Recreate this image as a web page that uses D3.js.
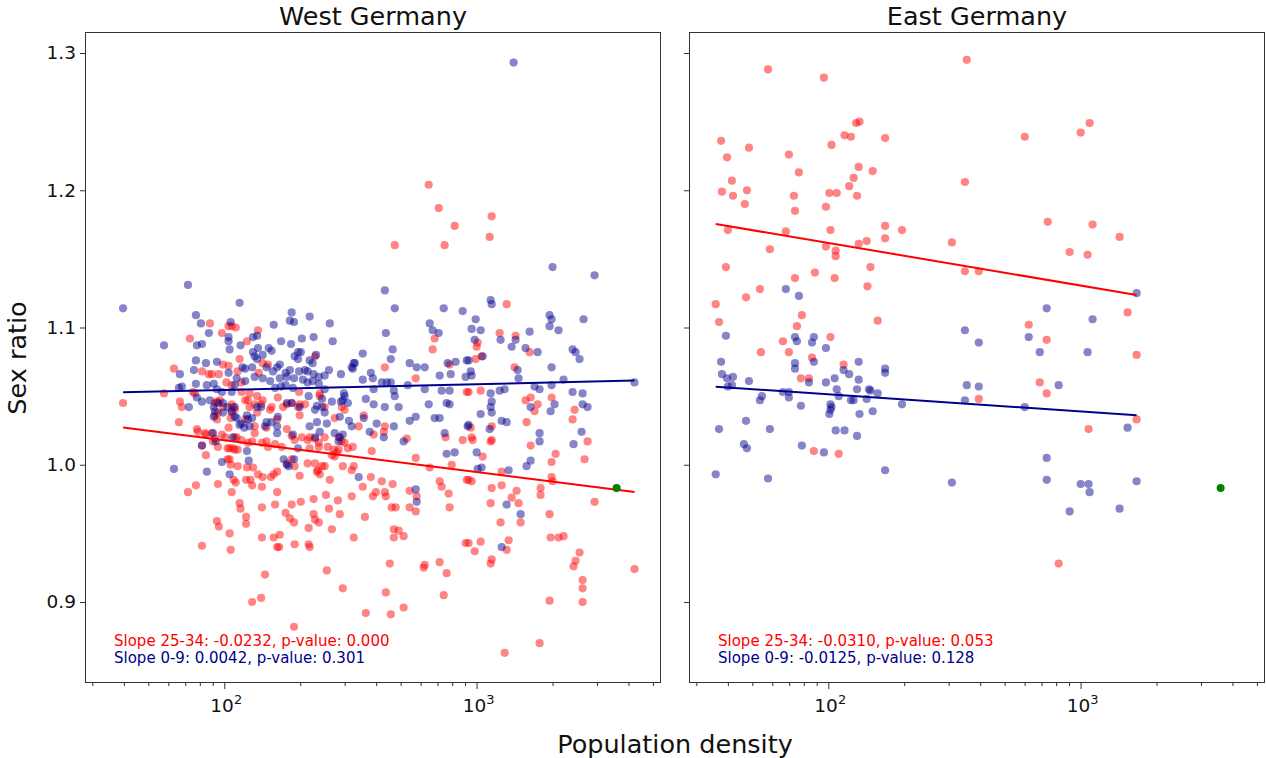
<!DOCTYPE html>
<html>
<head>
<meta charset="utf-8">
<script src="https://cdn.jsdelivr.net/npm/d3@7"></script>
<style>
  html, body { margin: 0; padding: 0; background: #ffffff; }
  svg { display: block; font-family: "DejaVu Sans", sans-serif; }
</style>
</head>
<body>
<svg id="chart" width="1266" height="758"></svg>
<script>
// ---- Data: [population density (per km²), sex ratio] per district ----

// West Germany, age group 0-9
const westYoung = [
  [71.8,1.131],[39.7,1.114],[115,1.118],[77.2,1.109],[80.8,1.103],[157,1.102],[106,1.104],[86.9,1.096],[104,1.093],[104,1.090],
  [57.7,1.087],[77.9,1.087],[81.6,1.088],[105,1.084],[116,1.087],[130,1.093],[135,1.094],[136,1.085],[130,1.082],[132,1.079],
  [135,1.077],[142,1.080],[150,1.085],[154,1.083],[77.2,1.076],[84.6,1.074],[93.5,1.075],[66.7,1.066],[75.8,1.069],[118,1.071],
  [121,1.070],[129,1.071],[147,1.071],[156,1.068],[77.2,1.059],[85.3,1.058],[67.9,1.057],[66.1,1.056],[104,1.067],[112,1.063],
  [121,1.061],[132,1.064],[142,1.063],[152,1.061],
  [185,1.111],[182,1.105],[189,1.104],[218,1.108],[262,1.103],[168,1.090],[184,1.088],[203,1.092],[226,1.093],[269,1.090],
  [196,1.082],[201,1.082],[190,1.079],[196,1.077],[218,1.076],[224,1.074],[231,1.080],[162,1.071],[166,1.073],[175,1.067],
  [177,1.064],[182,1.069],[189,1.063],[198,1.068],[209,1.069],[214,1.068],[226,1.066],[237,1.064],[250,1.065],[260,1.069],
  [290,1.066],[320,1.071],[329,1.074],[159,1.056],[168,1.057],[175,1.058],[187,1.056],[205,1.062],[214,1.060],[224,1.061],
  [237,1.059],[90.9,1.059],[93.5,1.055],[97.9,1.053],[107,1.053],[110,1.058],[77.9,1.049],[81.6,1.046],[87.7,1.047],[90.9,1.042],
  [94.4,1.045],[98.8,1.045],[110,1.042],[72.4,1.042],[90.9,1.035],[110,1.035],[123,1.036],[124,1.033],[129,1.034],[145,1.028],
  [147,1.031],[163,1.035],[162,1.028],[154,1.031],[115,1.029],[120,1.027],[126,1.028],[244,1.042],[229,1.040],[250,1.038],
  [267,1.046],[287,1.035],[290,1.046],[300,1.050],[295,1.047],[309,1.045],[233,1.031],[255,1.030],[274,1.023],[287,1.020],
  [295,1.022],[196,1.012],[229,1.020],[90.2,1.023],[92.6,1.017],[108,1.020],[123,1.010],[125,1.003],[97.9,1.002],[85.3,0.995],
  [105,0.993],[63.2,0.997],[172,1.004],[177,1.000],[189,1.004],[180,0.999],[187,1.022],
  [103,1.042],[91.8,1.039],[98.8,1.038],[107,1.039],[112,1.034],[117,1.030],[135,1.042],[140,1.042],[81.6,1.014],
  [177,1.045],[185,1.045],[199,1.042],[216,1.050],[233,1.043],[244,1.048],[312,1.032],[320,1.028],[284,1.017],[239,1.024],[218,1.028],
  [364,1.048],[391,1.044],[433,1.042],[474,1.050],[491,1.042],[357,1.034],[402,1.030],[470,1.028],[377,1.024],[429,1.020],[514,1.017],
  [646,1.044],[682,1.034],[714,1.034],[761,1.045],[782,1.044],[543,1.032],[574,1.035],[747,1.023],[761,1.008],[819,1.009],[922,1.028],
  [341,0.991],[574,0.982],[579,0.973],[162,1.023],
  [433,1.127],[474,1.114],[741,1.114],[881,1.112],[652,1.103],[670,1.098],[708,1.096],[437,1.096],[465,1.084],[457,1.077],
  [354,1.081],[326,1.074],[323,1.070],[381,1.067],[388,1.063],[354,1.062],[543,1.074],[579,1.071],[623,1.071],[768,1.074],
  [826,1.075],[914,1.076],[714,1.065],[790,1.066],[421,1.060],[441,1.060],[457,1.060],[534,1.058],[623,1.055],[470,1.054],
  [391,1.055],[727,1.054],[782,1.054],[905,1.064],[166,1.063],[250,1.055],[298,1.052],
  [1402,1.293],[2001,1.144],[2935,1.138],[1137,1.120],[1148,1.117],[992,1.106],[956,1.099],[1038,1.098],[1947,1.109],[1983,1.106],
  [1947,1.101],[2113,1.098],[2655,1.106],[1623,1.097],[983,1.091],[1245,1.091],[1428,1.091],[1377,1.086],[1564,1.085],[1746,1.082],
  [1057,1.079],[930,1.076],[2402,1.084],[2468,1.082],[2560,1.077],[1455,1.069],[1467,1.063],[1983,1.071],[2212,1.062],[956,1.065],
  [948,1.068],[4226,1.060],[1137,1.052],[1234,1.054],[1292,1.055],[1698,1.057],[1777,1.055],[1983,1.058],[2402,1.053],[2632,1.052],
  [1148,1.046],[1137,1.042],[1148,1.038],[1038,1.037],[1257,1.032],[1316,1.031],[1127,1.026],[1001,1.009],[1047,0.998],[1010,0.997],
  [1340,0.996],[1578,0.999],[1638,1.003],[1777,1.023],[1777,1.017],[1638,1.042],[1965,1.039],[2038,1.044],[2423,1.015],[2607,1.024],
  [2632,1.044],[2754,1.042],[1316,0.971],[1495,0.964],[1257,0.940],[930,1.029]
];

// West Germany, age group 25-34
const westAdult = [
  [87.7,1.103],[97.9,1.096],[104,1.101],[107,1.101],[111,1.100],[73.1,1.092],[136,1.098],[123,1.090],[115,1.077],[142,1.074],
  [149,1.073],[63.2,1.070],[81.6,1.068],[86.9,1.066],[89.3,1.066],[95.2,1.066],[98.8,1.073],[104,1.072],[113,1.068],[117,1.060],
  [137,1.067],[102,1.060],[107,1.058],[117,1.053],[126,1.052],[135,1.050],[57.7,1.052],[75.1,1.053],[76.5,1.052],[39.7,1.045],
  [66.7,1.046],[67.9,1.042],[66.1,1.031],[229,1.079],[198,1.053],[239,1.052],[433,1.071],[574,1.063],[782,1.073],[914,1.053],
  [682,1.092],[670,1.084],[646,1.204],[708,1.187],[819,1.174],[474,1.160],[747,1.160],[1148,1.181],[1127,1.166],[1316,1.117],
  [1234,1.096],[1428,1.094],[1010,1.089],[1001,1.086],[1047,1.079],[992,1.077],[1623,1.082],[1415,1.071],[1038,1.054],[930,1.053],
  [93.5,1.046],[96.1,1.047],[107,1.044],[108,1.042],[121,1.047],[124,1.047],[132,1.044],[140,1.044],[152,1.040],[91.8,1.036],
  [93.5,1.033],[104,1.027],[121,1.033],[132,1.023],[132,1.028],[147,1.027],[162,1.033],[159,1.015],[147,1.017],[129,1.017],
  [117,1.018],[112,1.020],[101,1.020],[94.4,1.013],[97.9,1.022],[90.2,1.017],[77.9,1.026],[84.6,1.022],[89.3,1.023],[84.6,1.007],
  [103,1.012],[108,1.012],[113,1.011],[103,1.004],[106,1.000],[109,0.989],[111,0.987],[122,0.989],[127,0.989],[129,0.985],
  [123,0.998],[130,0.998],[136,0.993],[142,0.991],[153,0.991],[157,0.993],[77.2,0.985],[71.8,0.980],[94.4,0.986],[107,0.980],
  [115,0.972],[116,0.968],[122,0.962],[122,0.957],[141,0.969],[159,0.971],[93.5,0.959],[95.2,0.955],[105,0.950],[81.6,0.941],
  [106,0.938],[141,0.947],[157,0.947],[162,0.940],[145,0.920],[129,0.900],[140,0.903],[81.6,1.014],
  [91.8,1.045],[94.4,1.038],[98.8,1.042],[107,1.038],[106,1.034],[110,1.040],[126,1.042],[135,1.038],[142,1.047],[154,1.042],
  [163,1.049],[171,1.042],[185,1.045],[196,1.042],[209,1.044],[239,1.050],[250,1.042],[274,1.034],[292,1.042],[300,1.040],
  [78.6,1.024],[83.8,1.023],[91.8,1.019],[110,1.020],[105,1.012],[110,1.011],[124,1.016],[141,1.016],[149,1.013],[169,1.013],
  [177,1.026],[185,1.021],[190,1.018],[203,1.020],[214,1.018],[237,1.013],[250,1.020],[257,1.013],[267,1.007],[279,1.009],
  [292,1.017],[309,1.012],[323,1.013],[105,1.004],[113,0.999],[141,0.984],[162,0.980],[177,1.001],[185,1.004],[190,0.999],
  [199,0.992],[214,1.001],[229,1.001],[235,0.996],[250,0.999],[262,0.989],[274,1.006],[295,0.999],[320,0.996],
  [177,1.044],[199,1.044],[199,1.036],[218,1.020],[229,1.019],[237,1.016],[218,1.012],[272,1.011],[284,1.011],[284,1.020],
  [300,1.016],[341,1.028],[357,1.036],[391,1.022],[384,1.010],[429,1.024],[433,1.028],[529,1.019],[574,1.005],[652,0.998],
  [754,1.020],[797,1.000],[881,1.018],[162,0.995],[233,0.995],[239,0.993],[244,0.999],[326,0.999],[381,0.991],[354,0.984],
  [399,0.980],[388,0.977],[421,0.988],[433,0.980],[437,0.977],[465,0.986],[461,0.969],[478,0.969],[543,0.981],[543,0.969],
  [579,0.977],[574,0.966],[714,0.988],[727,0.984],[775,0.979],[782,0.969],[914,0.989],[185,0.971],[201,0.973],[226,0.975],
  [253,0.978],[282,0.974],[320,0.977],[260,0.968],[287,0.964],[361,0.962],[175,0.965],[182,0.961],[189,0.958],[226,0.964],
  [229,0.960],[237,0.958],[216,0.954],[267,0.953],[326,0.947],[166,0.949],[165,0.940],[190,0.942],[216,0.942],[218,0.940],
  [470,0.953],[491,0.952],[470,0.947],[514,0.948],[905,0.943],[255,0.923],[295,0.910],[364,0.892],[437,0.907],[453,0.928],
  [457,0.891],[514,0.896],[617,0.925],[623,0.927],[714,0.929],[761,0.921],[741,0.905],[189,0.882],
  [1564,1.047],[1638,1.049],[1746,1.044],[1698,1.039],[1983,1.049],[2446,1.040],[2402,1.033],[1578,1.031],[1148,1.028],[1148,1.018],
  [1137,1.017],[948,1.027],[956,1.020],[965,1.018],[1638,1.014],[2057,1.008],[1983,1.002],[2679,1.004],[2754,1.017],[1057,1.006],
  [1257,0.995],[956,0.988],[930,0.989],[1257,0.985],[1148,0.983],[1441,0.981],[1137,0.972],[1377,0.976],[1467,0.972],[1793,0.983],
  [1793,0.978],[1983,0.991],[2001,0.988],[2935,0.973],[1947,0.964],[1495,0.958],[1245,0.958],[1965,0.947],[2113,0.947],[2212,0.948],
  [1340,0.945],[1038,0.944],[983,0.937],[1316,0.938],[1148,0.931],[1137,0.928],[2560,0.936],[2468,0.930],[2423,0.926],[930,0.943],
  [2632,0.916],[2632,0.910],[2632,0.900],[4226,0.924],[1947,0.901],[1292,0.863],[1777,0.870]
];

// East Germany, age group 0-9
const eastYoung = [
  [67.9,1.128],[76.5,1.123],[39.3,1.094],[73.8,1.093],[75.1,1.090],[87.7,1.093],[86.2,1.089],[97.9,1.085],[37.6,1.075],[73.8,1.074],
  [73.8,1.070],[87.7,1.075],[132,1.075],[115,1.069],[121,1.066],[168,1.070],[168,1.067],[37.9,1.066],[39.7,1.063],[41.9,1.064],
  [48.5,1.061],[40,1.057],[41.5,1.058],[106,1.063],[132,1.062],[97.9,1.060],[83.8,1.060],[108,1.055],[130,1.055],[145,1.055],
  [147,1.054],[157,1.052],[66.1,1.053],[69.8,1.053],[69.8,1.049],[54.6,1.050],[53.6,1.047],[110,1.050],[123,1.047],[126,1.047],
  [142,1.048],[77.9,1.043],[102,1.044],[103,1.042],[102,1.040],[101,1.037],[133,1.037],[150,1.039],[196,1.044],[47.2,1.032],
  [36.9,1.026],[58.7,1.026],[107,1.025],[116,1.025],[130,1.021],[46.3,1.015],[47.6,1.012],[78.6,1.014],[96.1,1.009],[35.8,0.993],
  [57.7,0.990],[168,0.996],
  [1668,1.125],[734,1.114],[1116,1.106],[348,1.098],[395,1.089],[623,1.093],[689,1.082],[1066,1.082],[354,1.058],[395,1.057],
  [819,1.058],[348,1.047],[601,1.042],[1536,1.027],[734,1.005],[309,0.987],[734,0.989],[1001,0.986],[1076,0.986],[1086,0.980],
  [1668,0.988],[905,0.966],[1428,0.968]
];

// East Germany, age group 25-34
const eastAdult = [
  [57.7,1.288],[96.1,1.282],[129,1.249],[133,1.250],[116,1.240],[123,1.239],[168,1.238],[37.6,1.236],[48.5,1.231],[103,1.233],
  [39.7,1.224],[69.8,1.226],[76.5,1.213],[41.5,1.207],[132,1.217],[150,1.214],[126,1.209],[121,1.203],[37.9,1.199],[41.9,1.196],
  [47.6,1.200],[46.7,1.190],[73.1,1.196],[101,1.198],[108,1.198],[130,1.196],[97.9,1.188],[73.8,1.185],[40,1.171],[67.9,1.170],
  [102,1.171],[168,1.174],[168,1.165],[196,1.171],[142,1.163],[132,1.161],[58.7,1.157],[97.9,1.159],[107,1.156],[107,1.152],
  [39.3,1.144],[147,1.144],[88.5,1.140],[73.8,1.136],[106,1.136],[53.6,1.128],[143,1.130],[47.2,1.122],[35.8,1.117],[36.9,1.104],
  [78.6,1.109],[75.1,1.101],[157,1.105],[102,1.093],[66.1,1.090],[54.1,1.082],[69.8,1.082],[86.2,1.078],[115,1.073],[77.9,1.063],
  [83.8,1.063],[87.7,1.010],[110,1.008],
  [354,1.295],[1086,1.249],[1001,1.242],[601,1.239],[348,1.206],[741,1.177],[1116,1.175],[1428,1.166],[309,1.162],[905,1.155],
  [1066,1.153],[348,1.141],[395,1.141],[1536,1.111],[623,1.102],[734,1.091],[1668,1.080],[689,1.060],[734,1.052],[395,1.048],
  [1668,1.033],[1076,1.026],[819,0.928]
];

// Reference district shown in both panels
const referencePoint = [3590, 0.983];

// Regression fits: sex ratio = intercept + slope * log10(density)
const regionNames = ["West Germany", "East Germany"];
const slopeAdult = [-0.0232, -0.0310];
const interceptAdult = [1.0643, 1.2236];
const pValueAdult = ["0.000", "0.053"];
const slopeYoung = [0.0042, -0.0125];
const interceptYoung = [1.0461, 1.0763];
const pValueYoung = ["0.301", "0.128"];

// Axis ticks
const yTicks = [0.9, 1.0, 1.1, 1.2, 1.3];
const xMajorTicks = [100, 1000];
const xMinorTicks = [30, 40, 50, 60, 70, 80, 90, 200, 300, 400, 500, 600, 700, 800, 900, 2000, 3000, 4000, 5000];

// ---- Layout ----
const svg = d3.select("#chart");
const panelLeft = [85, 689];
const panelWidth = 576;
const plotTop = 32, plotBottom = 683;
const frameColor = "#333333";
const adultColor = "red", youngColor = "darkblue";
const tickFont = 18.5;

const y = d3.scaleLinear().domain([0.841, 1.3153]).range([plotBottom, plotTop]);
const xDomain = [Math.pow(10, 1.448), Math.pow(10, 3.731)];

svg.append("rect").attr("width", 1266).attr("height", 758).attr("fill", "#ffffff");

const panelData = [
  { young: westYoung, adult: westAdult },
  { young: eastYoung, adult: eastAdult }
];

panelData.forEach((pd, i) => {
  const L = panelLeft[i];
  const x = d3.scaleLog().domain(xDomain).range([L, L + panelWidth]);
  const g = svg.append("g");

  // y axis ticks (labels only on the first panel)
  const yAxis = d3.axisLeft(y).tickValues(yTicks).tickSize(5).tickPadding(4)
    .tickFormat(i === 0 ? d3.format(".1f") : () => "");
  const ya = g.append("g").attr("transform", `translate(${L},0)`).call(yAxis);
  ya.select(".domain").remove();
  ya.selectAll("line").attr("stroke", frameColor);
  ya.selectAll("text").attr("font-family", "DejaVu Sans").attr("font-size", tickFont).attr("fill", "#111");

  // x axis: minor ticks
  const xMinor = d3.axisBottom(x).tickValues(xMinorTicks).tickSize(3).tickFormat(() => "");
  const xm = g.append("g").attr("transform", `translate(0,${plotBottom})`).call(xMinor);
  xm.select(".domain").remove();
  xm.selectAll("line").attr("stroke", frameColor);

  // x axis: major ticks with power-of-ten labels
  const xMajor = d3.axisBottom(x).tickValues(xMajorTicks).tickSize(6).tickFormat(() => "");
  const xM = g.append("g").attr("transform", `translate(0,${plotBottom})`).call(xMajor);
  xM.select(".domain").remove();
  xM.selectAll("line").attr("stroke", frameColor);
  xMajorTicks.forEach(v => {
    const t = g.append("text")
      .attr("x", x(v) + 2).attr("y", 712)
      .attr("text-anchor", "middle")
      .attr("font-size", tickFont).attr("fill", "#111");
    t.append("tspan").text("10");
    t.append("tspan").attr("dy", -8).attr("font-size", 13).text(String(Math.round(Math.log10(v))));
  });

  // scatter: 25-34 then 0-9
  g.append("g").selectAll("circle").data(pd.adult).join("circle")
    .attr("cx", d => x(d[0])).attr("cy", d => y(d[1])).attr("r", 4.1)
    .attr("fill", adultColor).attr("fill-opacity", 0.48);
  g.append("g").selectAll("circle").data(pd.young).join("circle")
    .attr("cx", d => x(d[0])).attr("cy", d => y(d[1])).attr("r", 4.1)
    .attr("fill", youngColor).attr("fill-opacity", 0.48);

  // regression lines over each panel's density range
  const ext = d3.extent(pd.adult.concat(pd.young), d => d[0]);
  const fitLine = d3.line().x(d => x(d[0])).y(d => y(d[1]));
  const fit = (a, b) => ext.map(v => [v, a + b * Math.log10(v)]);
  g.append("path").attr("d", fitLine(fit(interceptAdult[i], slopeAdult[i])))
    .attr("stroke", adultColor).attr("stroke-width", 2).attr("fill", "none");
  g.append("path").attr("d", fitLine(fit(interceptYoung[i], slopeYoung[i])))
    .attr("stroke", youngColor).attr("stroke-width", 2).attr("fill", "none");

  // reference district
  g.append("circle").attr("cx", x(referencePoint[0])).attr("cy", y(referencePoint[1]))
    .attr("r", 4).attr("fill", "green");

  // frame
  g.append("rect").attr("x", L + 0.5).attr("y", plotTop + 0.5)
    .attr("width", panelWidth - 1).attr("height", plotBottom - plotTop - 1)
    .attr("fill", "none").attr("stroke", frameColor).attr("stroke-width", 1);

  // title
  g.append("text").attr("x", L + panelWidth / 2).attr("y", 25)
    .attr("text-anchor", "middle").attr("font-size", 25.5).attr("fill", "#111")
    .text(regionNames[i]);

  // slope annotations
  g.append("text").attr("x", L + 29).attr("y", 646).attr("font-size", 15).attr("fill", adultColor)
    .text(`Slope 25-34: ${slopeAdult[i].toFixed(4)}, p-value: ${pValueAdult[i]}`);
  g.append("text").attr("x", L + 29).attr("y", 663).attr("font-size", 15).attr("fill", youngColor)
    .text(`Slope 0-9: ${slopeYoung[i].toFixed(4)}, p-value: ${pValueYoung[i]}`);
});

// shared axis labels
svg.append("text").attr("transform", "translate(26,358) rotate(-90)")
  .attr("text-anchor", "middle").attr("font-size", 25.5).attr("fill", "#111").text("Sex ratio");
svg.append("text").attr("x", 675).attr("y", 753)
  .attr("text-anchor", "middle").attr("font-size", 25.5).attr("fill", "#111").text("Population density");
</script>
</body>
</html>
